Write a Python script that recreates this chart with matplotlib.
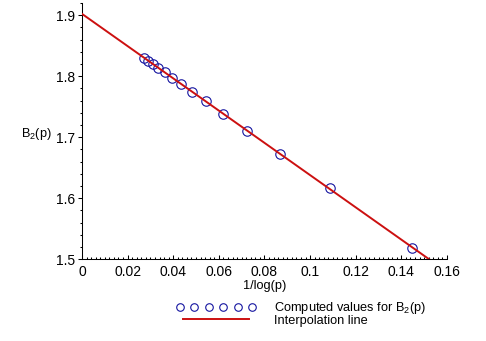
import matplotlib
matplotlib.use("Agg")
import matplotlib.pyplot as plt
from matplotlib.legend_handler import HandlerLine2D
from matplotlib.ticker import MultipleLocator

plt.rcParams["font.family"] = ["Liberation Sans", "DejaVu Sans"]
plt.rcParams["mathtext.default"] = "regular"

# 1/log(p) for p = 10^3 ... 10^16 and the partial sums B2(p)
inv_log_p = [0.1448, 0.1086, 0.0869, 0.0724, 0.0620, 0.0543, 0.0483,
             0.0434, 0.0395, 0.0362, 0.0334, 0.0310, 0.0290, 0.0271]
b2_values = [1.5180, 1.6169, 1.6728, 1.7107, 1.7383, 1.7588, 1.7747,
             1.7874, 1.7978, 1.8065, 1.8139, 1.8202, 1.8257, 1.8305]

# straight-line fit, extended down to 1/log(p) = 0
line_x = [0.0, 0.1522]
line_y = [1.9022, 1.5]

x_ticks = [0, 0.02, 0.04, 0.06, 0.08, 0.1, 0.12, 0.14, 0.16]
x_tick_labels = ["0", "0.02", "0.04", "0.06", "0.08", "0.1", "0.12", "0.14", "0.16"]
y_ticks = [1.5, 1.6, 1.7, 1.8, 1.9]
y_tick_labels = ["1.5", "1.6", "1.7", "1.8", "1.9"]

fig = plt.figure(figsize=(4.86, 3.41), dpi=100)
ax = fig.add_axes([0.1687, 0.2396, 0.7510, 0.7516])

pts, = ax.plot(inv_log_p, b2_values, linestyle="none", marker="o",
               markersize=6.8, markerfacecolor="none",
               markeredgecolor="#1414a0", markeredgewidth=0.8,
               label="Computed values for B$_2$(p)", zorder=2)
fit, = ax.plot(line_x, line_y, color="#cc1010", linewidth=1.4,
               label="Interpolation line", zorder=3)

ax.set_xlim(0, 0.16)
ax.set_ylim(1.5, 1.92)

ax.spines["top"].set_visible(False)
ax.spines["right"].set_visible(False)
for side in ["left", "bottom"]:
    ax.spines[side].set_linewidth(0.75)

ax.set_xticks(x_ticks)
ax.set_xticklabels(x_tick_labels)
ax.set_yticks(y_ticks)
ax.set_yticklabels(y_tick_labels)
ax.xaxis.set_minor_locator(MultipleLocator(0.002))
ax.yaxis.set_minor_locator(MultipleLocator(0.02))

ax.tick_params(axis="x", which="major", direction="in", length=3, width=0.75,
               labelsize=10, pad=4)
ax.tick_params(axis="x", which="minor", direction="in", length=1.5, width=0.75)
ax.tick_params(axis="y", which="major", direction="out", length=3, width=0.75,
               labelsize=10, pad=2)
ax.tick_params(axis="y", which="minor", direction="out", length=1.8, width=0.75)

ax.set_xlabel("1/log(p)", fontsize=9.2, va="top")
ax.xaxis.set_label_coords(0.5, -0.08)
ax.set_ylabel("B$_2$(p)", fontsize=9.2, rotation=0, ha="right", va="center")
ax.yaxis.set_label_coords(-0.082, 0.489)

leg = ax.legend(handles=[pts, fit], loc="upper left",
                bbox_to_anchor=(179.5 / 486, 41 / 341),
                bbox_transform=fig.transFigure,
                frameon=False, fontsize=9.2, numpoints=6, markerscale=0.8,
                handlelength=5.7, handletextpad=1.7, labelspacing=-0.1,
                borderpad=0, borderaxespad=0,
                handler_map={pts: HandlerLine2D(marker_pad=0, numpoints=6)})

fig.savefig("out.png", dpi=100)
